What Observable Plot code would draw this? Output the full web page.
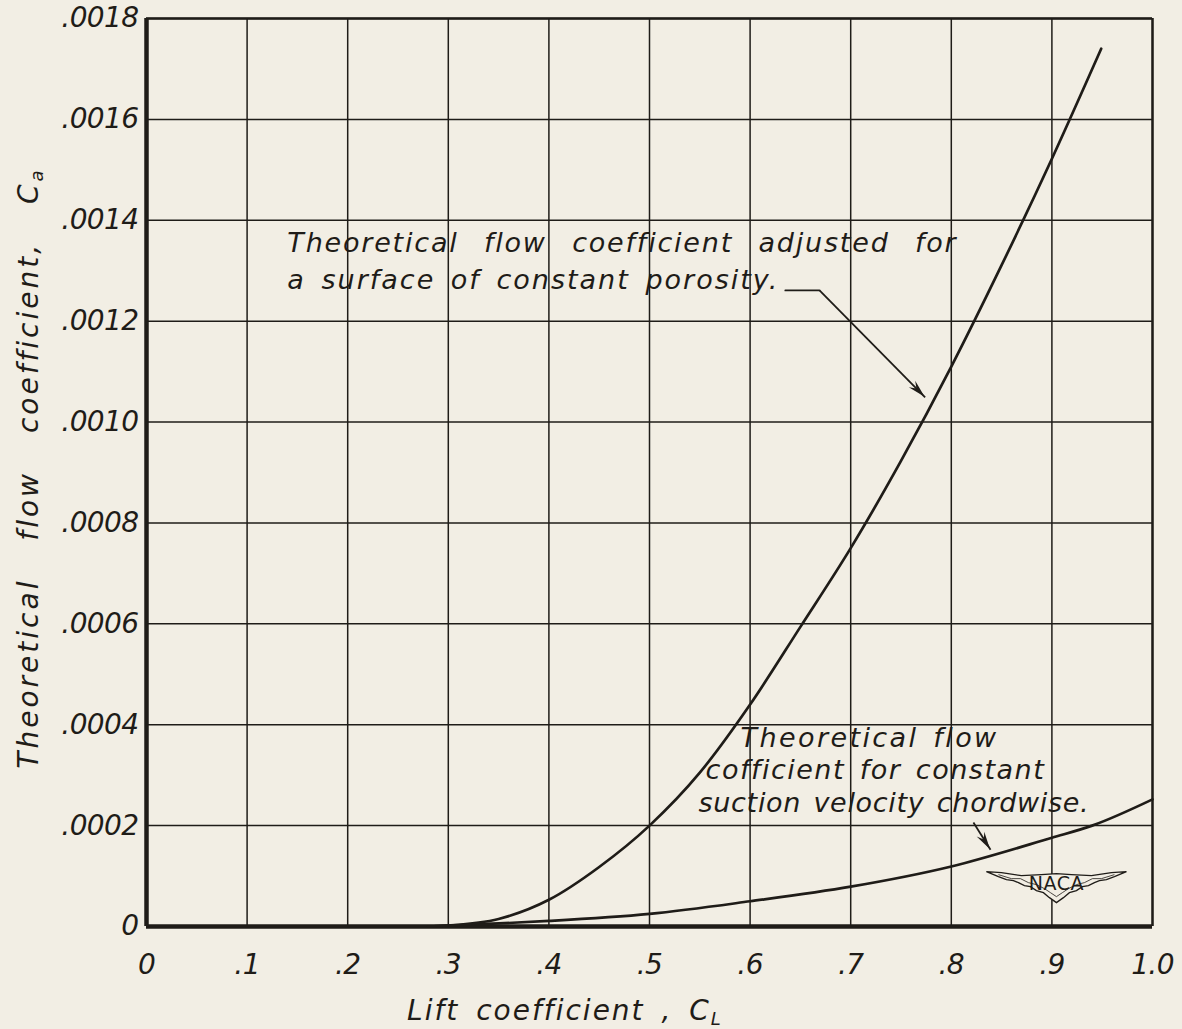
<!DOCTYPE html>
<html>
<head>
<meta charset="utf-8">
<script src="https://cdn.jsdelivr.net/npm/d3@7"></script>
<script src="https://cdn.jsdelivr.net/npm/@observablehq/plot@0.6"></script>
<style>
  html, body { margin: 0; padding: 0; background: #f2eee4; }
  #chart svg { display: block; }
</style>
</head>
<body>
<div id="chart"></div>
<script>
// Axis ticks and their printed labels
const liftTicks = [0, 0.1, 0.2, 0.3, 0.4, 0.5, 0.6, 0.7, 0.8, 0.9, 1.0];
const liftTickLabels = ["0", ".1", ".2", ".3", ".4", ".5", ".6", ".7", ".8", ".9", "1.0"];
const flowTicks = [0, 0.0002, 0.0004, 0.0006, 0.0008, 0.0010, 0.0012, 0.0014, 0.0016, 0.0018];
const flowTickLabels = ["0", ".0002", ".0004", ".0006", ".0008", ".0010", ".0012", ".0014", ".0016", ".0018"];

// Flow coefficient adjusted for a surface of constant porosity
const porosityCL = [0.28, 0.30, 0.35, 0.40, 0.45, 0.50, 0.55, 0.60, 0.65, 0.70, 0.75, 0.80, 0.85, 0.90, 0.949];
const porosityCQ = [0, 0.000002, 0.000015, 0.000053, 0.000118, 0.000200, 0.000305, 0.000440, 0.000594, 0.000750, 0.000923, 0.001110, 0.001311, 0.001522, 0.001740];

// Flow coefficient for constant suction velocity chordwise
const suctionCL = [0.28, 0.30, 0.35, 0.40, 0.50, 0.60, 0.70, 0.80, 0.90, 0.94, 1.00];
const suctionCQ = [0, 0.000002, 0.000006, 0.000011, 0.000025, 0.000050, 0.000079, 0.000119, 0.000176, 0.000200, 0.000252];

// Annotation lines (anchored at their left end, in chart units)
const noteLines = ["Theoretical flow coefficient adjusted for", "a surface of constant porosity.",
                   "Theoretical flow", "cofficient for constant", "suction velocity chordwise."];
const noteCL = [0.140, 0.140, 0.5905, 0.5557, 0.5487];
const noteCQ = [0.001354, 0.001281, 0.000373, 0.000309, 0.000244];

// Leader lines from the notes to the curves
const leaderCL1 = [0.635, 0.669, 0.822];
const leaderCQ1 = [0.001261, 0.001261, 0.000206];
const leaderCL2 = [0.669, 0.774, 0.839];
const leaderCQ2 = [0.001261, 0.001049, 0.000152];

const ink = "#1f1c18";
const paper = "#f2eee4";
const font = "DejaVu Sans";

const porosity = porosityCL.map((x, i) => ({x, y: porosityCQ[i]}));
const suction = suctionCL.map((x, i) => ({x, y: suctionCQ[i]}));
const notes = noteLines.map((text, i) => ({text, x: noteCL[i], y: noteCQ[i]}));
const tail = [{x: leaderCL1[0], y: leaderCQ1[0]}, {x: leaderCL1[1], y: leaderCQ1[1]}];
const pointers = [1, 2].map(i => ({x1: leaderCL1[i], y1: leaderCQ1[i], x2: leaderCL2[i], y2: leaderCQ2[i]}));

const label = (ticks, labels) => d => labels[ticks.findIndex(t => Math.abs(t - d) < 1e-9)];

const chart = Plot.plot({
  width: 1182,
  height: 1029,
  marginLeft: 146,
  marginRight: 30,
  marginTop: 18,
  marginBottom: 103,
  style: {background: "transparent", fontFamily: font, color: ink},
  x: {domain: [0, 1], axis: null},
  y: {domain: [0, 0.0018], axis: null},
  marks: [
    Plot.ruleX(liftTicks, {stroke: ink, strokeWidth: 1.5}),
    Plot.ruleY(flowTicks, {stroke: ink, strokeWidth: 1.5}),
    Plot.ruleX([1], {stroke: ink, strokeWidth: 2.4}),
    Plot.ruleY([0.0018], {stroke: ink, strokeWidth: 2.4}),
    Plot.ruleX([0], {stroke: ink, strokeWidth: 4.5}),
    Plot.ruleY([0], {stroke: ink, strokeWidth: 4.5}),
    Plot.axisX(liftTicks, {tickSize: 0, tickPadding: 28, tickFormat: label(liftTicks, liftTickLabels),
      fontSize: 28, fontStyle: "italic", fill: ink}),
    Plot.axisY(flowTicks, {tickSize: 0, tickPadding: 8, tickFormat: label(flowTicks, flowTickLabels),
      fontSize: 28, fontStyle: "italic", fill: ink}),
    Plot.line(suction, {x: "x", y: "y", curve: "monotone-x", stroke: ink, strokeWidth: 2.7}),
    Plot.line(porosity, {x: "x", y: "y", curve: "monotone-x", stroke: ink, strokeWidth: 2.7}),
    Plot.line(tail, {x: "x", y: "y", stroke: ink, strokeWidth: 1.8}),
    Plot.link(pointers, {x1: "x1", y1: "y1", x2: "x2", y2: "y2", stroke: ink, strokeWidth: 1.8}),
    Plot.text(notes, {x: "x", y: "y", text: "text", textAnchor: "start", lineAnchor: "middle",
      fontSize: 27, fontStyle: "italic", fill: ink})
  ]
});

const svg = d3.select(chart);
const xs = chart.scale("x"), ys = chart.scale("y");

// Hand-lettered spacing of the note lines
const noteSpacing = [[1.8, 15], [2, 5], [2.4, 4], [1.5, 4.5], [0.7, 3]];
svg.selectAll("text").filter(function() { return noteLines.includes(this.textContent); })
  .each(function() {
    const [ls, ws] = noteSpacing[noteLines.indexOf(this.textContent)];
    d3.select(this).style("letter-spacing", `${ls}px`).style("word-spacing", `${ws}px`);
  });
svg.selectAll("text").filter(function() {
  return liftTickLabels.includes(this.textContent) || flowTickLabels.includes(this.textContent);
}).style("letter-spacing", "-0.6px");

// Filled arrowheads at the ends of the pointers
pointers.forEach(p => {
  const x1 = xs.apply(p.x1), y1 = ys.apply(p.y1), x2 = xs.apply(p.x2), y2 = ys.apply(p.y2);
  const a = Math.atan2(y2 - y1, x2 - x1), len = 18, w = 4.5;
  const bx = x2 - len * Math.cos(a), by = y2 - len * Math.sin(a);
  const nx = -Math.sin(a) * w, ny = Math.cos(a) * w;
  svg.append("path")
    .attr("d", `M${x2},${y2}L${bx + nx},${by + ny}L${bx + 0.35 * len * Math.cos(a)},${by + 0.35 * len * Math.sin(a)}L${bx - nx},${by - ny}Z`)
    .attr("fill", ink);
});

// Axis titles with subscripts
const xt = svg.append("text")
  .attr("x", 565).attr("y", 1020)
  .attr("text-anchor", "middle")
  .attr("font-family", font).attr("font-size", 28).attr("font-style", "italic")
  .attr("fill", ink).style("letter-spacing", "2px").style("word-spacing", "6px");
xt.append("tspan").text("Lift coefficient , C");
xt.append("tspan").attr("font-size", 18).attr("dy", 5).text("L");

const yt = svg.append("text")
  .attr("transform", `translate(38,468) rotate(-90)`)
  .attr("text-anchor", "middle")
  .attr("font-family", font).attr("font-size", 28).attr("font-style", "italic")
  .attr("fill", ink).style("letter-spacing", "3px").style("word-spacing", "26px");
yt.append("tspan").text("Theoretical flow coefficient, C");
yt.append("tspan").attr("font-size", 18).attr("dy", 5).text("a");

// NACA wing emblem
const cx = xs.apply(0.905), cy = ys.apply(0.000082);
const wing = [[0,-11],[15,-10],[35,-9],[55,-12],[70,-13],[58,-8],[50,-5],[43,-4],[38,-2],[32,1],[26,2],[20,6],[13,8],[7,13],[0,18]];
const outline = wing.concat(wing.slice(0, -1).reverse().map(([x, y]) => [-x, y]));
const emblem = svg.append("g").attr("transform", `translate(${cx},${cy})`);
emblem.append("path")
  .attr("d", d3.line()(outline) + "Z")
  .attr("fill", paper).attr("stroke", ink).attr("stroke-width", 1.3);
const inner = [[58,-10],[45,-6],[36,-6],[28,-2],[20,0],[12,4],[6,8],[0,12]];
emblem.append("path")
  .attr("d", d3.line()(inner.concat(inner.slice(0, -1).reverse().map(([x, y]) => [-x, y]))))
  .attr("fill", "none").attr("stroke", ink).attr("stroke-width", 0.8);
emblem.append("text")
  .attr("y", 5).attr("text-anchor", "middle")
  .attr("font-family", font).attr("font-size", 19).style("letter-spacing", "0.5px")
  .attr("fill", ink).text("NACA");

document.getElementById("chart").appendChild(chart);
</script>
</body>
</html>
